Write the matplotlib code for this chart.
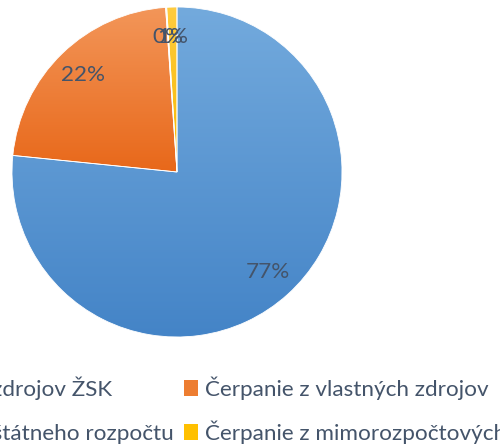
import numpy as np
import matplotlib
matplotlib.use("Agg")
import matplotlib.pyplot as plt
from matplotlib.colors import LinearSegmentedColormap
from matplotlib.patches import Patch

# data (clockwise from 12 o'clock)
labels = [
    "Čerpanie z kapitálových zdrojov ŽSK",
    "Čerpanie z vlastných zdrojov",
    "Čerpanie z prostriedkov štátneho rozpočtu",
    "Čerpanie z mimorozpočtových zdrojov",
]
values = [76.6, 22.3, 0.1, 1.0]

top_colors = ["#73AADD", "#F39659", "#BDBDBD", "#FFCC40"]
bottom_colors = ["#4484C7", "#E8681A", "#959595", "#F6B800"]
mid_colors = ["#5B9BD5", "#ED7D31", "#A5A5A5", "#FFC000"]
TEXT = "#44546A"
FS = 16.2

plt.rcParams["font.family"] = ["Lato", "DejaVu Sans"]

fig = plt.figure(figsize=(5, 4.47), dpi=100)
ax = fig.add_axes([12 / 500, 110 / 447, 330 / 500, 330 / 447])

wedges, texts, autotexts = ax.pie(
    values, startangle=90, counterclock=False,
    autopct="%.0f%%", pctdistance=0.82, colors=mid_colors,
    wedgeprops=dict(edgecolor="white", linewidth=0.6),
    textprops=dict(color=TEXT, fontsize=FS),
)

# vertical gradient per slice, like the office style fill
grad = np.linspace(0, 1, 256).reshape(-1, 1)
for w, c0, c1 in zip(wedges, top_colors, bottom_colors):
    ext = w.get_path().get_extents()
    cmap = LinearSegmentedColormap.from_list("g", [c0, c1])
    im = ax.imshow(grad, cmap=cmap, origin="upper", aspect="auto",
                   extent=(ext.x0, ext.x1, ext.y0, ext.y1), zorder=1.2)
    im.set_clip_path(w)
    w.set_facecolor("none")
    w.set_zorder(1.5)

ax.set_xlim(-1, 1)
ax.set_ylim(-1, 1)
ax.set_aspect("equal")
ax.axis("off")

# legend, two per row (row-major order like the original)
order = [0, 2, 1, 3]
handles = [Patch(facecolor=mid_colors[i], edgecolor="none") for i in order]
leg = fig.legend(handles, [labels[i] for i in order], ncol=2,
                 loc="upper left", bbox_to_anchor=(0, 0.2), frameon=False,
                 fontsize=FS, handlelength=0.65, handleheight=0.7,
                 handletextpad=0.3, columnspacing=0.42, labelspacing=0.9,
                 labelcolor=TEXT, borderpad=0, borderaxespad=0)

# shift legend so the orange entry lands where it is in the original
fig.canvas.draw()
r = fig.canvas.get_renderer()
bb = leg.get_texts()[2].get_window_extent(r)
dx = 205 - bb.x0
dy = (447 - 388) - (bb.y0 + bb.y1) / 2
leg.set_bbox_to_anchor((dx / 500, 0.2 + dy / 447))

fig.savefig("out.png", dpi=100)
